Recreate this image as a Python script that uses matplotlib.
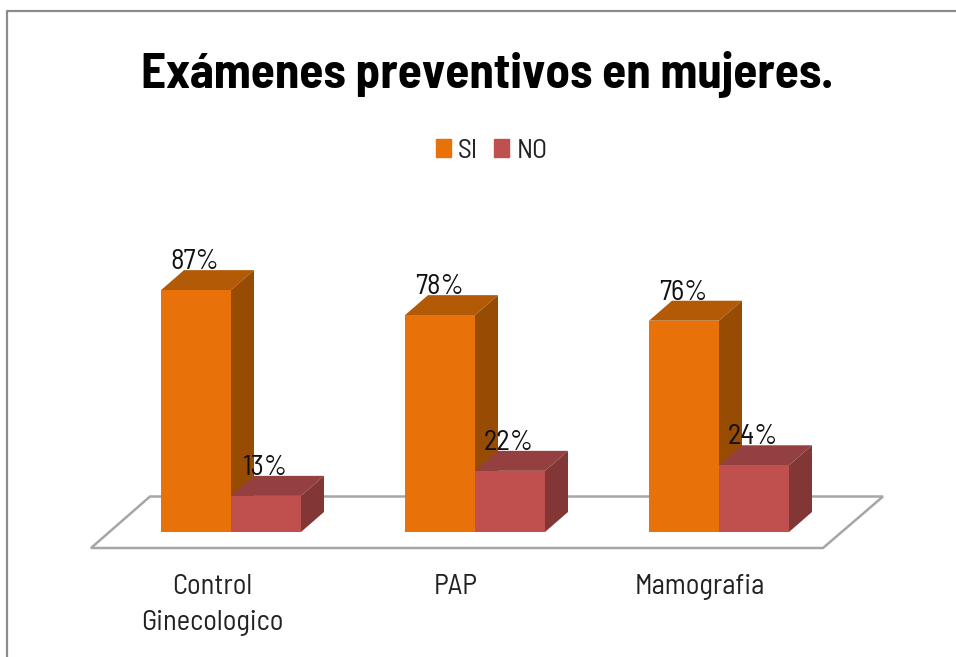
"""Examenes preventivos en mujeres: fake-3D clustered columns."""

import matplotlib

matplotlib.use("Agg")
import matplotlib.pyplot as plt
from matplotlib.patches import Polygon, Rectangle

# --- Data -------------------------------------------------------------

CATEGORIES = ["Control\nGinecologico", "PAP", "Mamografia"]
SI_VALUES = [87, 78, 76]
NO_VALUES = [13, 22, 24]

# --- Style ------------------------------------------------------------

FONT = ["Barlow Semi Condensed", "Lato", "DejaVu Sans"]
SI_COLORS = ("#E8710A", "#B25A05", "#974B03")  # front, top, side
NO_COLORS = ("#C0504D", "#954040", "#823636")
FLOOR_COLOR = "#A6A6A6"
BORDER_COLOR = "#8C8C8C"

W, H = 956, 657
BASE_PX = 532  # pixel row of the columns' foot
PX_PER_PCT = 2.78
PX_PER_GROUP = 244
FIRST_GROUP_PX = 231

BAR_W = 70 / PX_PER_GROUP
DEPTH_X = 23 / PX_PER_GROUP
DEPTH_Y = 20 / PX_PER_PCT


def px_x(px):
    return (px - FIRST_GROUP_PX) / PX_PER_GROUP


def px_y(py):
    return (BASE_PX - py) / PX_PER_PCT


def draw_column(ax, left, value, colors, z):
    front, top, side = colors
    right = left + BAR_W
    ax.add_patch(Polygon(
        [(left, value), (right, value),
         (right + DEPTH_X, value + DEPTH_Y), (left + DEPTH_X, value + DEPTH_Y)],
        closed=True, facecolor=top, edgecolor="none", zorder=z))
    ax.add_patch(Polygon(
        [(right, 0), (right + DEPTH_X, DEPTH_Y),
         (right + DEPTH_X, value + DEPTH_Y), (right, value)],
        closed=True, facecolor=side, edgecolor="none", zorder=z))
    ax.bar(left, value, width=BAR_W, align="edge", color=front, zorder=z + 1)
    ax.text(left + BAR_W / 2 - 1 / PX_PER_GROUP, value + DEPTH_Y + 0.4, f"{value}%",
            ha="center", va="baseline", fontsize=20.5, family=FONT,
            color="#111111", zorder=8)


def main():
    fig = plt.figure(figsize=(W / 100, H / 100), dpi=100)
    ax = fig.add_axes([0, 0, 1, 1])
    ax.set_xlim(px_x(0), px_x(W))
    ax.set_ylim(px_y(H), px_y(0))
    ax.axis("off")

    # chart area border, only top and left are inside the crop
    ax.plot([px_x(7), px_x(7), px_x(W)], [px_y(H), px_y(11), px_y(11)],
            color=BORDER_COLOR, linewidth=1.6, zorder=1)

    # floor
    ax.add_patch(Polygon(
        [(px_x(91), px_y(548)), (px_x(150), px_y(496.5)),
         (px_x(883), px_y(496.5)), (px_x(823), px_y(548))],
        closed=True, facecolor="white", edgecolor=FLOOR_COLOR,
        linewidth=1.8, zorder=1))

    for i, cat in enumerate(CATEGORIES):
        draw_column(ax, i - BAR_W, SI_VALUES[i], SI_COLORS, 2)
        draw_column(ax, i, NO_VALUES[i], NO_COLORS, 4)
        ax.text(i - 19 / PX_PER_GROUP, px_y(574), cat, ha="center", va="top",
                fontsize=20.5, family=FONT, color="#222222", linespacing=1.5)

    ax.text(px_x(487), px_y(88), "Exámenes preventivos en mujeres.",
            ha="center", va="baseline", fontsize=35.3, fontweight="bold",
            family=FONT, color="black")

    handles = [Rectangle((0, 0), 1, 1, color=SI_COLORS[0]),
               Rectangle((0, 0), 1, 1, color=NO_COLORS[0])]
    ax.legend(handles, ["SI", "NO"], ncol=2, frameon=False,
              loc="center", bbox_to_anchor=(491.5 / W, 1 - 151 / H),
              prop={"family": FONT, "size": 20},
              labelcolor="#222222", handlelength=0.54, handleheight=0.6,
              handletextpad=0.25, columnspacing=0.6)

    fig.savefig("out.png", dpi=100)


if __name__ == "__main__":
    main()
